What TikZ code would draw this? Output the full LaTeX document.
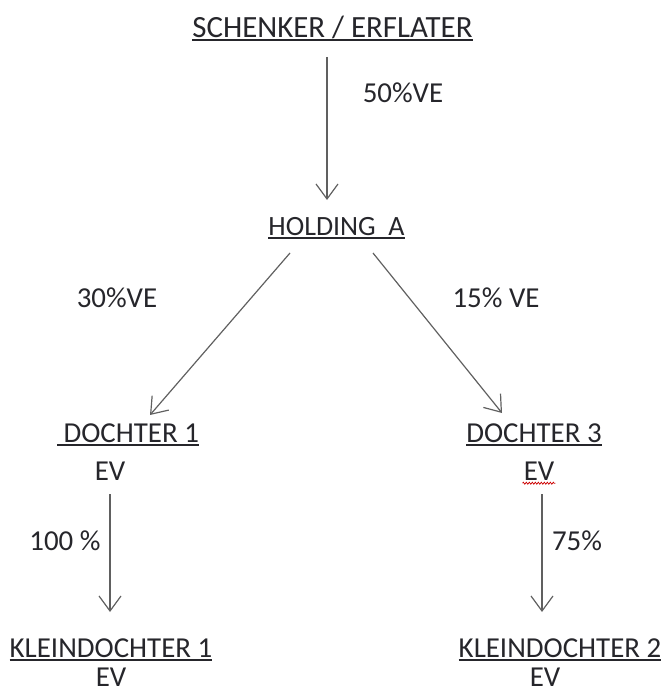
\documentclass[tikz,border=0pt]{standalone}
\usepackage{fontspec}
\setmainfont{Carlito}
\usetikzlibrary{arrows.meta,decorations.pathmorphing}
\definecolor{txt}{HTML}{26262B}
\definecolor{ln}{HTML}{606060}
\newcommand\myul[1]{{\setbox0\hbox{#1}\rlap{\rule[-3.5bp]{\wd0}{1.8bp}}\box0}}
\begin{document}
\begin{tikzpicture}[x=1bp,y=-1bp,
  lbl/.style={text=txt,font=\fontsize{29}{32}\selectfont,inner sep=0pt,anchor=base},
  conn/.style={draw=ln,line width=1.2bp,-{Straight Barb[length=15bp,width=22bp,line width=1.2bp]}}]
\useasboundingbox (0,0) rectangle (665,693);
\node[lbl,font=\fontsize{31}{34}\selectfont] (sch) at (332.5,37.5) {\myul{SCHENKER / ERFLATER}};
\node[lbl,font=\fontsize{28}{32}\selectfont] (hold) at (336.5,235) {\myul{HOLDING\ \ A}};
\node[lbl] (d1) at (128,442) {\myul{\ DOCHTER 1}};
\node[lbl] (d1ev) at (110,480) {EV};
\node[lbl] (d3) at (534,442) {\myul{DOCHTER 3}};
\node[lbl] (d3ev) at (539,480) {EV};
\node[lbl] (k1) at (111,657) {\myul{KLEINDOCHTER 1}};
\node[lbl] (k1ev) at (111,686) {EV};
\node[lbl] (k2) at (560,657) {\myul{KLEINDOCHTER 2}};
\node[lbl] (k2ev) at (545,686) {EV};
\node[lbl] (l50) at (403,103) {50\%VE};
\node[lbl] (l30) at (117,307) {30\%VE};
\node[lbl] (l15) at (496,307) {15\% VE};
\node[lbl] (l100) at (65,550) {100 \%};
\node[lbl] (l75) at (577,550) {75\%};
\coordinate (a1s) at (327,57); \coordinate (a1e) at (327,200);
\coordinate (a2s) at (290,253); \coordinate (a2e) at (150,415);
\coordinate (a3s) at (373,253); \coordinate (a3e) at (502,413);
\coordinate (a4s) at (110,494); \coordinate (a4e) at (110,612);
\coordinate (a5s) at (542,494); \coordinate (a5e) at (542,612);
\draw[conn] (a1s) -- (a1e);
\draw[conn] (a2s) -- (a2e);
\draw[conn] (a3s) -- (a3e);
\draw[conn] (a4s) -- (a4e);
\draw[conn] (a5s) -- (a5e);
\draw[red!80!black,line width=0.7bp,decorate,decoration={zigzag,segment length=3bp,amplitude=1bp}]
  ([xshift=-1bp,yshift=-3bp]d3ev.south west) -- ([xshift=1bp,yshift=-3bp]d3ev.south east);
\end{tikzpicture}
\end{document}
